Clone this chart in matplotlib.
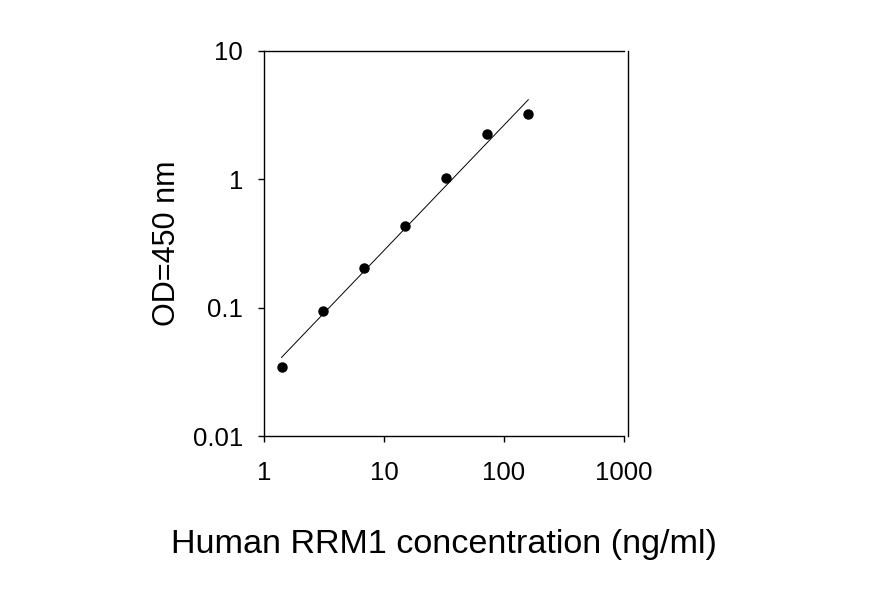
import matplotlib
matplotlib.use("Agg")
from matplotlib import pyplot as plt
import numpy as np

# standard curve
koncentrace = [1.40, 3.08, 6.81, 14.96, 32.8, 72.6, 159.4]
od450 = [0.0343, 0.0941, 0.202, 0.433, 1.02, 2.24, 3.21]

xTicks = [1, 10, 100, 1000]
xTickLabels = ["1", "10", "100", "1000"]
yTicks = [0.01, 0.1, 1, 10]
yTickLabels = ["0.01", "0.1", "1", "10"]

plt.rcParams['font.family'] = ['Liberation Sans', 'DejaVu Sans']

fig = plt.figure(figsize=(8.79, 6.08), dpi=100)
ax = fig.add_axes([264 / 879, 1 - 436 / 608, 360 / 879, 385 / 608])

# linearni regrese v log-log
lx = np.log10(koncentrace)
ly = np.log10(od450)
k, q = np.polyfit(lx, ly, 1)
xFit = np.array([koncentrace[0], koncentrace[-1]])
yFit = 10 ** (k * np.log10(xFit) + q)
ax.plot(xFit, yFit, color='black', linewidth=0.7)
ax.plot(koncentrace, od450, 'o', color='black', markersize=6.5)

ax.set_xscale('log')
ax.set_yscale('log')
ax.set_xlim(1, 1000)
ax.set_ylim(0.01, 10)
ax.set_xticks(xTicks)
ax.set_xticklabels(xTickLabels)
ax.set_yticks(yTicks)
ax.set_yticklabels(yTickLabels)
ax.minorticks_off()
ax.tick_params(direction='out', length=4, width=1, labelsize=18.5, color='black')
ax.tick_params(axis='x', pad=14)
ax.tick_params(axis='y', pad=11)
for s in ax.spines.values():
    s.set_linewidth(1)
    s.set_color('black')
ax.spines['right'].set_position(('outward', 3))

ax.set_xlabel("Human RRM1 concentration (ng/ml)", fontsize=24.6, labelpad=32)
ax.set_ylabel("OD=450 nm", fontsize=22, labelpad=8)

fig.savefig("out.png", dpi=100)
